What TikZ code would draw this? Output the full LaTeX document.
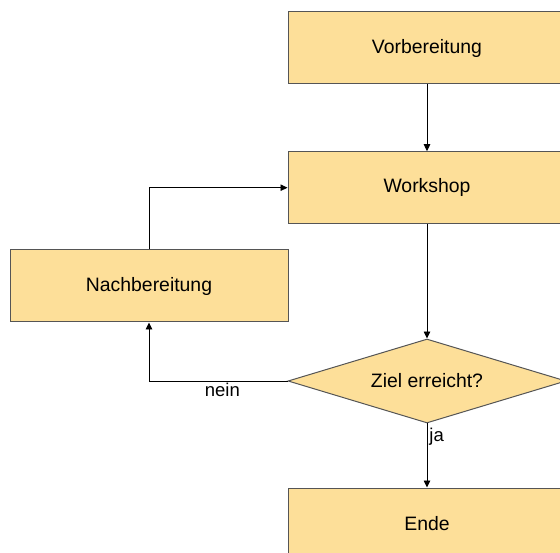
\documentclass[tikz,border=0pt]{standalone}
\usepackage{fontspec}
\setmainfont{Liberation Sans}
\usetikzlibrary{shapes.geometric,arrows.meta}
\definecolor{boxfill}{RGB}{253,223,153}
\definecolor{boxline}{RGB}{85,85,85}
\tikzset{
  x=1pt, y=1pt,
  every node/.style={font=\fontsize{19.4}{23}\selectfont},
  procbox/.style={draw=boxline, fill=boxfill, line width=1pt,
    minimum width=278pt, minimum height=72pt, inner sep=0pt},
  decision/.style={diamond, aspect=3.31, draw=boxline, fill=boxfill, line width=1pt,
    minimum width=278pt, minimum height=84pt, inner sep=0pt},
  flow/.style={draw=black, line width=0.9pt, -{Triangle[length=7pt,width=6.5pt]}},
  edgelabel/.style={inner sep=2pt, font=\fontsize{18.5}{22}\selectfont}
}
\begin{document}
\begin{tikzpicture}
  \useasboundingbox (0,0) rectangle (560,-553);

  \node[procbox]  (prep)  at (427,-48)    {Vorbereitung};
  \node[procbox]  (work)  at (427,-187.7) {Workshop};
  \node[procbox]  (post)  at (149,-286)   {Nachbereitung};
  \node[decision] (goal)  at (427,-381)   {Ziel erreicht?};
  \node[procbox]  (done)  at (427,-524)   {Ende};

  \coordinate (loopup) at (post.north |- work.west);
  \coordinate (loopdn) at (post.south |- goal.west);

  \draw[flow] (prep) -- (work);
  \draw[flow] (work) -- (goal);
  \draw[flow] (goal.west) -- node[edgelabel, pos=0.47, below] {nein} (loopdn) -- (post.south);
  \draw[flow] (post.north) -- (loopup) -- (work.west);
  \draw[flow] (goal.south) -- node[edgelabel, pos=0.03, anchor=north west] {ja} (done.north);
\end{tikzpicture}
\end{document}
